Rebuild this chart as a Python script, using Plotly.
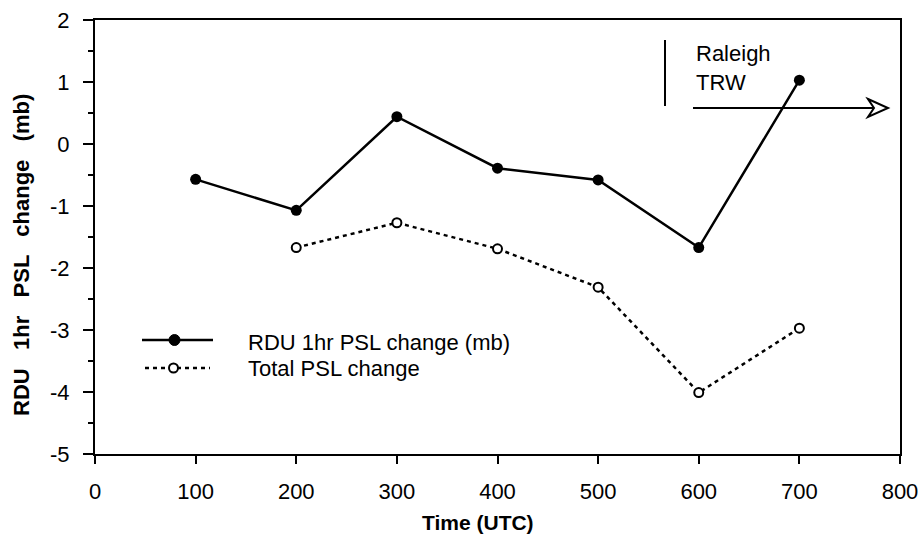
import plotly.graph_objects as go

time_solid = [100, 200, 300, 400, 500, 600, 700]
rdu_change = [-0.57, -1.07, 0.44, -0.39, -0.58, -1.67, 1.03]
time_open = [200, 300, 400, 500, 600, 700]
total_change = [-1.67, -1.27, -1.69, -2.31, -4.01, -2.97]
x_ticks = [0, 100, 200, 300, 400, 500, 600, 700, 800]
y_ticks = [2, 1, 0, -1, -2, -3, -4, -5]

W, H = 922, 542
L, R, T, B = 95, 22, 20, 88
pw, ph = W - L - R, H - T - B

def px(xp):
    return (xp - L) / pw

def py(yp):
    return (H - B - yp) / ph

FONT = "Liberation Sans, Arial, sans-serif"

fig = go.Figure()
fig.add_trace(go.Scatter(x=time_solid, y=rdu_change, mode="lines+markers",
                         line=dict(color="black", width=2.5),
                         marker=dict(size=11, color="black"),
                         showlegend=False))
fig.add_trace(go.Scatter(x=time_open, y=total_change, mode="lines+markers",
                         line=dict(color="black", width=2.5, dash="4px,4px"),
                         marker=dict(size=9, color="white", line=dict(color="black", width=2)),
                         showlegend=False))

shapes = []
# legend samples
shapes.append(dict(type="line", xref="paper", yref="paper", x0=px(142), x1=px(213),
                   y0=py(340), y1=py(340), line=dict(color="black", width=2.5)))
shapes.append(dict(type="line", xref="paper", yref="paper", x0=px(145), x1=px(210),
                   y0=py(368), y1=py(368), line=dict(color="black", width=2.5, dash="4px,4px")))
shapes.append(dict(type="circle", xref="paper", yref="paper", x0=px(169), x1=px(180),
                   y0=py(345.5), y1=py(334.5), fillcolor="black", line=dict(color="black", width=1)))
shapes.append(dict(type="circle", xref="paper", yref="paper", x0=px(169), x1=px(178),
                   y0=py(372.5), y1=py(363.5), fillcolor="white", line=dict(color="black", width=2), layer="above"))
# Raleigh TRW marker
shapes.append(dict(type="line", xref="paper", yref="paper", x0=px(665), x1=px(665),
                   y0=py(40), y1=py(106), line=dict(color="black", width=2)))
shapes.append(dict(type="line", xref="paper", yref="paper", x0=px(693), x1=px(882),
                   y0=py(108), y1=py(108), line=dict(color="black", width=2)))
shapes.append(dict(type="path", xref="paper", yref="paper",
                   path=f"M{px(868)},{py(99)} L{px(888)},{py(108)} L{px(868)},{py(117)} L{px(874)},{py(108)} Z",
                   fillcolor="white", line=dict(color="black", width=2)))

annotations = [
    dict(text="RDU 1hr PSL change (mb)", xref="paper", yref="paper", x=px(246), y=py(342),
         xanchor="left", yanchor="middle", showarrow=False, font=dict(family=FONT, size=22, color="black")),
    dict(text="Total PSL change", xref="paper", yref="paper", x=px(246), y=py(368),
         xanchor="left", yanchor="middle", showarrow=False, font=dict(family=FONT, size=22, color="black")),
    dict(text="Raleigh<br>TRW", xref="paper", yref="paper", x=px(694), y=py(68), align="left",
         xanchor="left", yanchor="middle", showarrow=False, font=dict(family=FONT, size=22, color="black")),
    dict(text="<b>Time (UTC)</b>", xref="paper", yref="paper", x=px(478), y=py(522),
         xanchor="center", yanchor="middle", showarrow=False, font=dict(family=FONT, size=21, color="black")),
    dict(text="<b>RDU   1hr   PSL   change   (mb)</b>", xref="paper", yref="paper", x=px(22), y=py(255),
         xanchor="center", yanchor="middle", textangle=-90, showarrow=False,
         font=dict(family=FONT, size=22, color="black")),
]

fig.update_layout(
    width=W, height=H,
    margin=dict(l=L, r=R, t=T, b=B),
    paper_bgcolor="white", plot_bgcolor="white",
    font=dict(family=FONT, size=22, color="black"),
    shapes=shapes, annotations=annotations,
    xaxis=dict(range=[0, 800], tickvals=x_ticks, ticktext=[str(v) for v in x_ticks],
               automargin=False,
               showgrid=False, zeroline=False, showline=True, linecolor="black", linewidth=2,
               mirror=True, ticks="outside", ticklen=8, tickwidth=2, tickcolor="black",
               tickfont=dict(size=22), ticklabelstandoff=9),
    yaxis=dict(range=[-5, 2], tickvals=y_ticks, ticktext=[str(v) for v in y_ticks],
               automargin=False,
               showgrid=False, zeroline=False, showline=True, linecolor="black", linewidth=2,
               mirror=True, ticks="outside", ticklen=10, tickwidth=2, tickcolor="black",
               tickfont=dict(size=22), ticklabelstandoff=9,
               minor=dict(dtick=0.5, ticks="outside", ticklen=5, tickwidth=2, tickcolor="black")),
)

fig.write_html("out.html", config={"displayModeBar": False},
               post_script="document.body.style.margin='0';document.body.style.overflow='hidden';")
